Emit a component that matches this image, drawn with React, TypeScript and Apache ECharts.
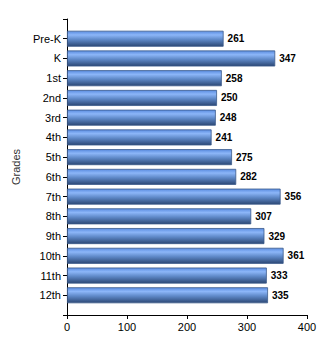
import React, { useEffect, useRef } from "react";
import * as echarts from "echarts";

const grades = ["Pre-K", "K", "1st", "2nd", "3rd", "4th", "5th", "6th", "7th", "8th", "9th", "10th", "11th", "12th"];
const counts = [261, 347, 258, 250, 248, 241, 275, 282, 356, 307, 329, 361, 333, 335];
const xTicks = [0, 100, 200, 300, 400];

export default function App() {
  const ref = useRef<HTMLDivElement>(null);
  useEffect(() => {
    if (!ref.current) return;
    const chart = echarts.init(ref.current, undefined, { renderer: "svg" });
    const cats = ["", ...grades, ""];
    const data = [null, ...counts, null];
    chart.setOption({
      animation: false,
      textStyle: { fontFamily: "Liberation Sans, Arial, sans-serif" },
      grid: { left: 67, top: 19, right: 23, bottom: 35, containLabel: false },
      xAxis: {
        type: "value",
        min: xTicks[0],
        max: xTicks[xTicks.length - 1],
        interval: 100,
        axisLine: { show: true, lineStyle: { color: "#000", width: 1 } },
        axisTick: { show: true, length: 4, lineStyle: { color: "#000" } },
        axisLabel: { color: "#000", fontSize: 11, margin: 6 },
        splitLine: { show: false },
      },
      yAxis: {
        type: "category",
        data: cats,
        inverse: true,
        boundaryGap: false,
        name: "Grades",
        nameLocation: "middle",
        nameGap: 44,
        nameRotate: 90,
        nameTextStyle: { color: "#333", fontSize: 11 },
        axisLine: { show: true, lineStyle: { color: "#000", width: 1 } },
        axisTick: { show: true, length: 4, inside: false, lineStyle: { color: "#000" } },
        axisLabel: { color: "#000", fontSize: 11, margin: 6, interval: 0 },
        splitLine: { show: false },
      },
      series: [
        {
          type: "bar",
          data,
          barWidth: 16,
          itemStyle: {
            borderColor: "#3b5a8a",
            borderWidth: 0.8,
            color: new echarts.graphic.LinearGradient(0, 0, 0, 1, [
              { offset: 0, color: "#5a8ce0" },
              { offset: 0.25, color: "#8cb6f8" },
              { offset: 0.55, color: "#5f89c8" },
              { offset: 1, color: "#2c4875" },
            ]),
          },
          label: {
            show: true,
            position: "right",
            distance: 4,
            color: "#000",
            fontSize: 10,
            fontWeight: "bold",
          },
        },
      ],
    });
    return () => chart.dispose();
  }, []);
  return <div ref={ref} style={{ width: 330, height: 350, margin: -8 }} />;
}
